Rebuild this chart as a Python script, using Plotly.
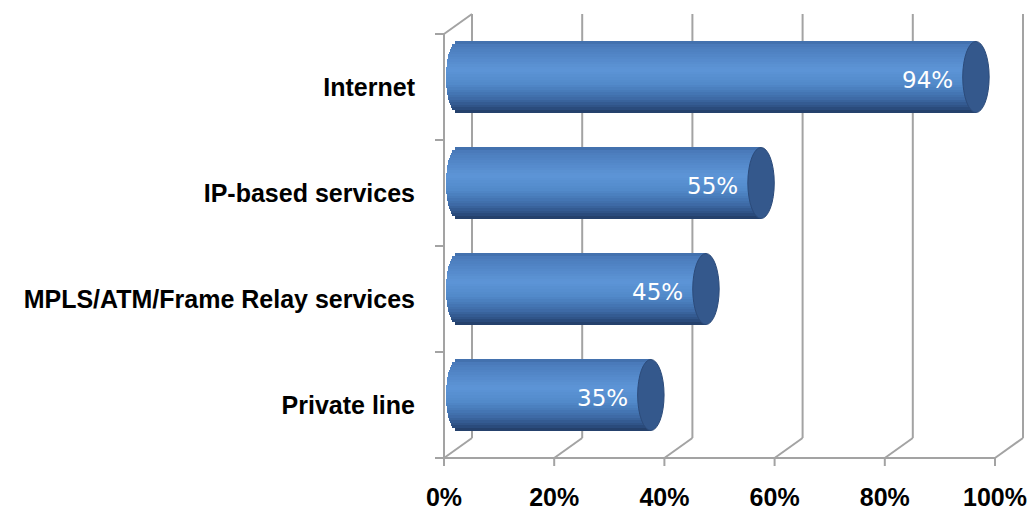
import numpy as np
import plotly.graph_objects as go

# ---------------- data ----------------
categories = ["Internet", "IP-based services", "MPLS/ATM/Frame Relay services", "Private line"]
values = [94, 55, 45, 35]
x_ticks = [0, 20, 40, 60, 80, 100]
x_tick_labels = ["0%", "20%", "40%", "60%", "80%", "100%"]
value_labels = ["94%", "55%", "45%", "35%"]

# ---------------- geometry (pixels) ----------------
W, H = 1028, 512
PL, PT, PR, PB = 444, 14, 4, 54          # plot area margins
PW, PH = W - PL - PR, H - PT - PB        # 580 x 444
FRONT_W, FRONT_H = 551, 424              # front plane size
DX, DY = 28, 20                          # depth offset of back wall
BAR_W = 0.67                             # bar thickness (category units)
CAP_R = 2.4                              # cylinder end radius (value units)
N_STRIPES = 28
X2_MIN = -2.5
PPU = FRONT_W / 100.0

def px_to_paper_x(px):
    return (px - PL) / PW

def px_to_paper_y(py):
    return (PT + PH - py) / PH

def front_x(v):
    return PL + v * PPU

FRONT_TOP = PT + DY
FRONT_BOTTOM = PT + DY + FRONT_H
n_cat = len(categories)
cat_px = FRONT_H / n_cat

fig = go.Figure()

# anchor trace so the front axes (tick labels) are drawn
fig.add_trace(go.Scatter(x=[], y=[], xaxis="x", yaxis="y", showlegend=False, hoverinfo="skip"))

# ---------------- cylinder bars (gradient via stripes) ----------------
stops = [(0.00, "#3f6ca8"), (0.06, "#4b7cbc"), (0.40, "#5d95d7"), (0.60, "#5189c9"),
         (0.80, "#3e6ba7"), (0.93, "#2d5083"), (1.00, "#223c64")]

def hex2rgb(h):
    h = h.lstrip("#")
    return np.array([int(h[i:i + 2], 16) for i in (0, 2, 4)], dtype=float)

def color_at(f):
    for (f0, c0), (f1, c1) in zip(stops[:-1], stops[1:]):
        if f0 <= f <= f1:
            t = (f - f0) / (f1 - f0) if f1 > f0 else 0
            c = hex2rgb(c0) * (1 - t) + hex2rgb(c1) * t
            return "rgb(%d,%d,%d)" % tuple(np.round(c))
    return stops[-1][1]

ypos = list(range(n_cat))
vals = np.array(values, dtype=float)
h = BAR_W / N_STRIPES
for k in range(N_STRIPES):
    fc = (k + 0.5) / N_STRIPES
    t = 2 * fc - 1
    base = -CAP_R * 0.9 * np.sqrt(max(0.0, 1 - t * t))
    fig.add_trace(go.Bar(
        orientation="h", y=ypos, x=list(vals - base), base=[base] * n_cat,
        offset=-BAR_W / 2 + k * h, width=h * 1.15,
        marker=dict(color=color_at(fc), line=dict(width=0)),
        xaxis="x2", yaxis="y2", showlegend=False, hoverinfo="skip",
    ))

# end caps
for i, v in enumerate(values):
    fig.add_shape(type="circle", xref="x2", yref="y2",
                  x0=v - CAP_R, x1=v + CAP_R, y0=i - BAR_W / 2, y1=i + BAR_W / 2,
                  fillcolor="#34588c", line=dict(color="#2c4b7a", width=1), layer="above")

# value labels
for i, (v, lab) in enumerate(zip(values, value_labels)):
    fig.add_annotation(x=v, y=i, xref="x2", yref="y2", text=lab, showarrow=False,
                       xanchor="right", yanchor="middle", xshift=-21, yshift=-3,
                       font=dict(family="DejaVu Sans", size=23, color="white"))

# ---------------- 3D walls / gridlines ----------------
GRID = dict(color="#a3a3a3", width=2)

def line_px(x0, y0, x1, y1, layer="below"):
    fig.add_shape(type="line", xref="paper", yref="paper",
                  x0=px_to_paper_x(x0), y0=px_to_paper_y(y0),
                  x1=px_to_paper_x(x1), y1=px_to_paper_y(y1),
                  line=GRID, layer=layer)

for tv in x_ticks:
    fx = front_x(tv)
    line_px(fx + DX, FRONT_TOP - DY, fx + DX, FRONT_BOTTOM - DY)   # back wall vertical
    line_px(fx, FRONT_BOTTOM, fx + DX, FRONT_BOTTOM - DY)           # floor diagonal
    line_px(fx, FRONT_BOTTOM, fx, FRONT_BOTTOM + 8)                 # x tick mark

line_px(PL - 9, FRONT_BOTTOM, front_x(100), FRONT_BOTTOM)
line_px(PL, FRONT_TOP, PL, FRONT_BOTTOM)
line_px(PL, FRONT_TOP, PL + DX, FRONT_TOP - DY)
for b in range(n_cat + 1):
    yb = FRONT_TOP + b * cat_px
    line_px(PL - 9, yb, PL, yb)

# ---------------- layout ----------------
tickfont = dict(family="Liberation Sans, Arial", size=25, color="black", weight="bold")
x2_left = (DX / 2 + X2_MIN * PPU) / PW
x2_right = (DX / 2 + FRONT_W) / PW
fig.update_layout(
    width=W, height=H,
    margin=dict(l=PL, r=PR, t=PT, b=PB, pad=0, autoexpand=False),
    paper_bgcolor="white", plot_bgcolor="rgba(0,0,0,0)",
    barmode="overlay", bargap=0, showlegend=False,
    xaxis=dict(domain=[0, FRONT_W / PW], range=[0, 100], tickvals=x_ticks, ticktext=x_tick_labels,
               showgrid=False, zeroline=False, showline=False, ticks="", tickfont=tickfont,
               ticklabelstandoff=22, fixedrange=True, automargin=False),
    yaxis=dict(domain=[0, FRONT_H / PH], range=[n_cat - 0.5, -0.5], tickvals=ypos, ticktext=categories,
               showgrid=False, zeroline=False, showline=False, ticks="", tickfont=tickfont,
               ticklabelstandoff=28, fixedrange=True, automargin=False),
    xaxis2=dict(domain=[x2_left, x2_right], range=[X2_MIN, 100], anchor="y2",
                visible=False, fixedrange=True),
    yaxis2=dict(domain=[(DY / 2) / PH, (DY / 2 + FRONT_H) / PH], range=[n_cat - 0.5, -0.5],
                anchor="x2", visible=False, fixedrange=True),
)

fig.write_html("out.html")
